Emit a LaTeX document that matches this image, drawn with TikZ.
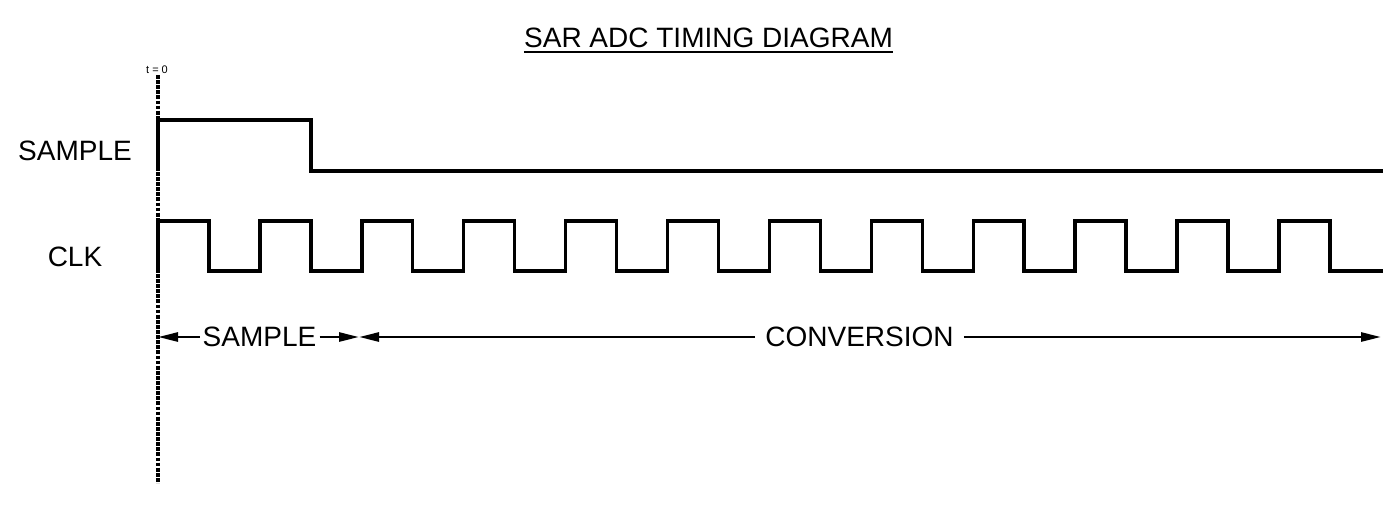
\documentclass[tikz,border=0pt]{standalone}
\usepackage{fontspec}
\setmainfont{Liberation Sans}
\usetikzlibrary{arrows.meta}
\begin{document}
\begin{tikzpicture}[x=1pt,y=-1pt,
  sig/.style={line width=3.4pt,line join=miter},
  tline/.style={line width=3.4pt,dash pattern=on 3.8pt off 1.3pt},
  lbl/.style={font=\fontsize{28}{30}\selectfont,inner sep=0pt},
  span/.style={line width=2.6pt},
  tip/.style={-{Triangle[length=20pt,width=9pt]}}]
\useasboundingbox (0,0) rectangle (1388,515);
% title
\node[lbl] (title) at (708.5,38) {SAR ADC TIMING DIAGRAM};
\draw[line width=2.4pt] ([yshift=-4pt]title.south west) coordinate (ul1) -- ([yshift=-4pt]title.south east) coordinate (ul2);
% t = 0 marker
\node[font=\fontsize{11}{12}\selectfont,inner sep=0pt] (t0) at (157,70) {t = 0};
\coordinate (ttop) at (158,75);
\coordinate (tbot) at (158,483);
\draw[tline] (ttop) -- (tbot);
% signal labels
\node[lbl] (lsample) at (75,151) {SAMPLE};
\node[lbl] (lclk) at (75,257) {CLK};
% SAMPLE signal
\coordinate (s0) at (158,171);
\coordinate (s1) at (158,120);
\coordinate (s2) at (311,120);
\coordinate (s3) at (311,171);
\coordinate (s4) at (1383,171);
\draw[sig] (s0) -- (s1) -- (s2) -- (s3) -- (s4);
% CLK signal
\coordinate (c0) at (158,271);
\coordinate (cend) at (1383,271);
\draw[sig] (c0) -- (158,221)
  \foreach \k in {0,...,11} {
    -- ({158+101.9*\k+50.95},221) -- ({158+101.9*\k+50.95},271)
    -- ({158+101.9*\k+101.9},271) \ifnum\k<11 -- ({158+101.9*\k+101.9},221)\fi
  } -- (cend);
% phase spans
\coordinate (a0) at (158,337);
\coordinate (a1) at (359,337);
\coordinate (a2) at (1381,337);
\node[lbl,inner xsep=3pt] (nsample) at (259.5,337) {SAMPLE};
\node[lbl,inner xsep=10pt] (nconv) at (859.5,337) {CONVERSION};
\draw[span,tip] (nsample.west) -- (a0);
\draw[span,tip] (nsample.east) -- (a1);
\draw[span,tip] (nconv.west) -- (a1);
\draw[span,tip] (nconv.east) -- (a2);
\end{tikzpicture}
\end{document}
